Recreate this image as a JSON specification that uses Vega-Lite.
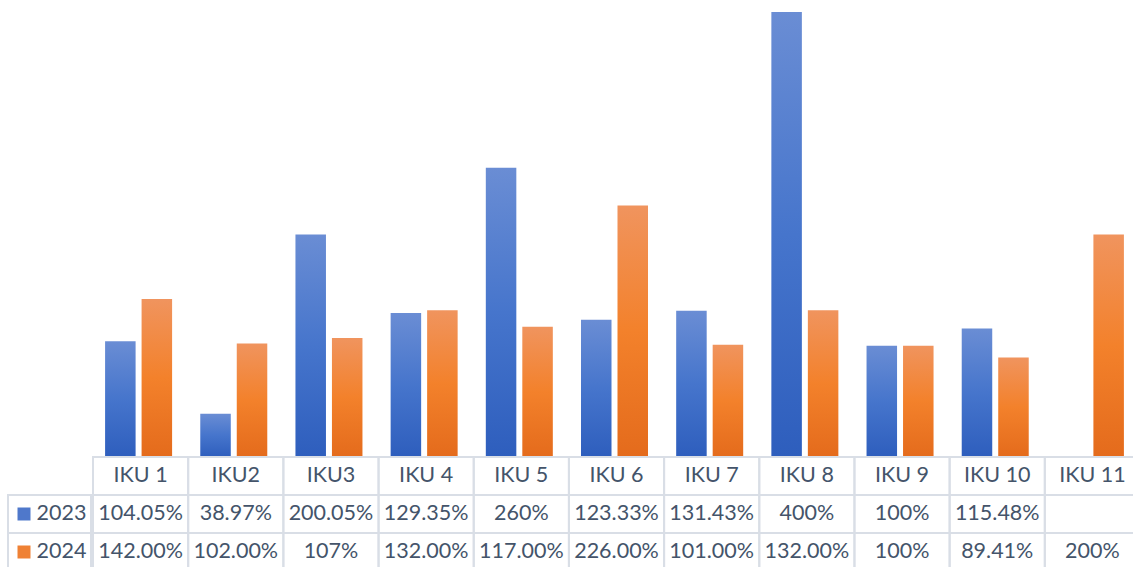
{
  "$schema": "https://vega.github.io/schema/vega-lite/v6.json",
  "autosize": {"type": "pad"},
  "padding": {"left": 7, "top": 12, "right": 0, "bottom": 0},
  "background": "white",
  "bounds": "flush",
  "spacing": 0,
  "config": {
    "view": {"stroke": null},
    "text": {"font": "Lato", "fontSize": 21.5, "color": "#44546a"}
  },
  "datasets": {
    "iku": [
      {"category": "IKU 1", "year": "2023", "value": 104.05, "label": "104.05%"},
      {"category": "IKU 1", "year": "2024", "value": 142.0, "label": "142.00%"},
      {"category": "IKU2", "year": "2023", "value": 38.97, "label": "38.97%"},
      {"category": "IKU2", "year": "2024", "value": 102.0, "label": "102.00%"},
      {"category": "IKU3", "year": "2023", "value": 200.05, "label": "200.05%"},
      {"category": "IKU3", "year": "2024", "value": 107, "label": "107%"},
      {"category": "IKU 4", "year": "2023", "value": 129.35, "label": "129.35%"},
      {"category": "IKU 4", "year": "2024", "value": 132.0, "label": "132.00%"},
      {"category": "IKU 5", "year": "2023", "value": 260, "label": "260%"},
      {"category": "IKU 5", "year": "2024", "value": 117.0, "label": "117.00%"},
      {"category": "IKU 6", "year": "2023", "value": 123.33, "label": "123.33%"},
      {"category": "IKU 6", "year": "2024", "value": 226.0, "label": "226.00%"},
      {"category": "IKU 7", "year": "2023", "value": 131.43, "label": "131.43%"},
      {"category": "IKU 7", "year": "2024", "value": 101.0, "label": "101.00%"},
      {"category": "IKU 8", "year": "2023", "value": 400, "label": "400%"},
      {"category": "IKU 8", "year": "2024", "value": 132.0, "label": "132.00%"},
      {"category": "IKU 9", "year": "2023", "value": 100, "label": "100%"},
      {"category": "IKU 9", "year": "2024", "value": 100, "label": "100%"},
      {"category": "IKU 10", "year": "2023", "value": 115.48, "label": "115.48%"},
      {"category": "IKU 10", "year": "2024", "value": 89.41, "label": "89.41%"},
      {"category": "IKU 11", "year": "2023", "value": null, "label": ""},
      {"category": "IKU 11", "year": "2024", "value": 200, "label": "200%"}
    ]
  },
  "vconcat": [
    {
      "width": 1125,
      "height": 445,
      "data": {"name": "iku"},
      "encoding": {
        "x": {
          "field": "category", "type": "nominal", "axis": null, "sort": null,
          "scale": {"domain": ["IKU 1", "IKU2", "IKU3", "IKU 4", "IKU 5", "IKU 6", "IKU 7", "IKU 8", "IKU 9", "IKU 10", "IKU 11"], "range": [83, 1130], "paddingInner": 0, "paddingOuter": 0}
        },
        "xOffset": {
          "field": "year", "type": "nominal",
          "scale": {"domain": ["2023", "2024"], "paddingInner": 0.164, "paddingOuter": 0.386}
        },
        "y": {
          "field": "value", "type": "quantitative", "axis": null,
          "scale": {"domain": [0, 400], "nice": false, "zero": true}
        }
      },
      "layer": [
        {
          "transform": [{"filter": "datum.year === '2023'"}],
          "mark": {
            "type": "bar",
            "color": {
              "gradient": "linear", "x1": 0, "y1": 0, "x2": 0, "y2": 1,
              "stops": [
                {"offset": 0, "color": "#6a8dd4"},
                {"offset": 0.5, "color": "#4675cc"},
                {"offset": 1, "color": "#2e5ebd"}
              ]
            }
          }
        },
        {
          "transform": [{"filter": "datum.year === '2024'"}],
          "mark": {
            "type": "bar",
            "color": {
              "gradient": "linear", "x1": 0, "y1": 0, "x2": 0, "y2": 1,
              "stops": [
                {"offset": 0, "color": "#f0945e"},
                {"offset": 0.5, "color": "#f3812b"},
                {"offset": 1, "color": "#e46b1c"}
              ]
            }
          }
        }
      ]
    },
    {
      "spacing": 0,
      "hconcat": [
        {
          "width": 83,
          "height": 114,
          "data": {"name": "iku"},
          "transform": [{"filter": "datum.category === 'IKU 1'"}],
          "encoding": {
            "y": {
              "field": "year", "type": "nominal", "axis": null,
              "scale": {"domain": ["cat", "2023", "2024"], "paddingInner": 0, "paddingOuter": 0}
            }
          },
          "layer": [
            {
              "mark": {"type": "rect", "fill": "white", "fillOpacity": 0, "stroke": "#d9dee6", "strokeWidth": 2}
            },
            {
              "mark": {"type": "point", "shape": "square", "filled": true, "size": 169, "opacity": 1, "xOffset": -25.5},
              "encoding": {
                "color": {
                  "field": "year", "type": "nominal", "legend": null,
                  "scale": {"domain": ["2023", "2024"], "range": ["#4f78cb", "#ef8134"]}
                }
              }
            },
            {
              "mark": {"type": "text", "align": "left", "baseline": "middle", "dx": -13},
              "encoding": {"text": {"field": "year"}}
            }
          ]
        },
        {
          "width": 1047,
          "height": 114,
          "data": {"name": "iku"},
          "encoding": {
            "x": {
              "field": "category", "type": "nominal", "axis": null, "sort": null,
              "scale": {"domain": ["IKU 1", "IKU2", "IKU3", "IKU 4", "IKU 5", "IKU 6", "IKU 7", "IKU 8", "IKU 9", "IKU 10", "IKU 11"], "paddingInner": 0, "paddingOuter": 0}
            }
          },
          "layer": [
            {
              "mark": {"type": "rect", "fill": "white", "fillOpacity": 0, "stroke": "#d9dee6", "strokeWidth": 2},
              "encoding": {
                "y": {
                  "field": "year", "type": "nominal", "axis": null,
                  "scale": {"domain": ["cat", "2023", "2024"], "paddingInner": 0, "paddingOuter": 0}
                }
              }
            },
            {
              "transform": [{"filter": "datum.year === '2024'"}],
              "mark": {"type": "rect", "fill": "white", "fillOpacity": 0, "stroke": "#d9dee6", "strokeWidth": 2},
              "encoding": {"y": {"datum": "cat", "type": "nominal", "axis": null}}
            },
            {
              "mark": {"type": "text", "baseline": "middle"},
              "encoding": {
                "y": {"field": "year", "type": "nominal", "axis": null},
                "text": {"field": "label"}
              }
            },
            {
              "transform": [{"filter": "datum.year === '2024'"}],
              "mark": {"type": "text", "baseline": "middle"},
              "encoding": {
                "y": {"datum": "cat", "type": "nominal", "axis": null},
                "text": {"field": "category"}
              }
            }
          ]
        }
      ]
    }
  ]
}
